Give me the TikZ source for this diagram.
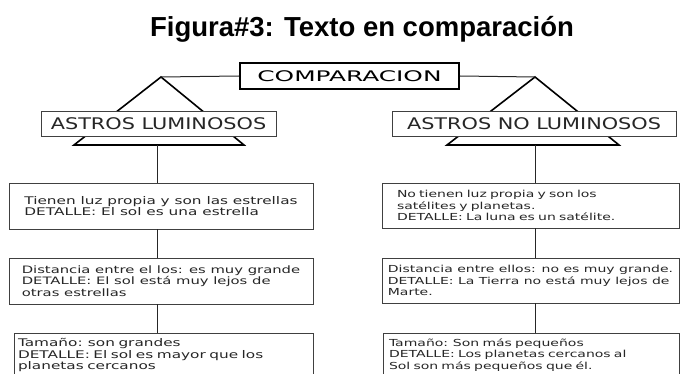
\documentclass[tikz,border=0pt]{standalone}
\usepackage{fontspec}
\usepackage{tikz}
\newfontfamily\fuentefig{Liberation Sans}
\newfontfamily\fuentecomp[FakeStretch=1.7]{DejaVu Sans}
\newfontfamily\fuentecab[FakeStretch=1.3]{DejaVu Sans}
\newfontfamily\fuentecaja[FakeStretch=1.45]{DejaVu Sans}

\tikzset{
	cabecera/.style={draw=black!75, line width=0.9pt, fill=white, inner sep=0pt, minimum height=25pt, text=black!85, font=\fuentecab\fontsize{16}{18}\selectfont},
	caja/.style={draw=black!75, line width=0.9pt, fill=white, align=left, inner ysep=0pt, text=black!85},
	cajaizq/.style={caja, font=\fuentecaja\fontsize{10.55}{11.8}\selectfont},
	cajader/.style={caja, font=\fuentecaja\fontsize{9.65}{11.2}\selectfont},
	linea/.style={line width=1pt, black!85},
	triangulo/.style={line width=1.6pt, black}
}

\begin{document}
\begin{tikzpicture}[x=1pt, y=-1pt]
	\useasboundingbox (0,0) rectangle (680,374);

	\node[font=\fuentefig\bfseries\fontsize{27.5}{30}\selectfont] (titulo) at (362,29.5) {Figura\#3: Texto en comparación};

	\node[draw, line width=1.8pt, inner sep=0pt, minimum width=219pt, minimum height=26pt, font=\fuentecomp\fontsize{14.6}{16}\selectfont] (comp) at (349.5,76) {COMPARACION};

	% triangulos bajo cada cabecera
	\coordinate (picoL) at (161,77);
	\coordinate (picoR) at (535,77);
	\coordinate (baseL) at (157,145);
	\coordinate (baseR) at (535,145);
	\draw[triangulo] (74,145) -- (picoL) -- (244,145) -- cycle;
	\draw[triangulo] (447,145) -- (picoR) -- (619,145) -- cycle;
	\draw[linea] (comp.west) -- (picoL);
	\draw[linea] (comp.east) -- (picoR);

	\node[cabecera, minimum width=235pt] (lum) at (158.5,123.5) {ASTROS LUMINOSOS};
	\node[cabecera, minimum width=284pt] (nolum) at (534,124) {ASTROS NO LUMINOSOS};

	% columna izquierda
	\node[cajaizq, minimum width=304pt, minimum height=46pt] (l1) at (161,206) {Tienen luz propia y son las estrellas\\DETALLE: El sol es una estrella};
	\node[cajaizq, font=\fuentecaja\fontsize{10.2}{11.8}\selectfont, minimum width=304pt, minimum height=46pt] (l2) at (161,281) {Distancia entre el los: es muy grande\\DETALLE: El sol está muy lejos de\\otras estrellas};
	\node[cajaizq, text width=291pt, inner xsep=4pt, minimum height=44pt] (l3) at (163.5,355) {Tamaño: son grandes\\DETALLE: El sol es mayor que los\\planetas cercanos};

	% columna derecha
	\node[cajader, text width=267pt, inner xsep=15pt, minimum height=45pt] (r1) at (530.5,205.5) {No tienen luz propia y son los\\satélites y planetas.\\DETALLE: La luna es un satélite.};
	\node[cajader, minimum width=297pt, minimum height=45pt] (r2) at (530.5,280.5) {Distancia entre ellos: no es muy grande.\\DETALLE: La Tierra no está muy lejos de\\Marte.};
	\node[cajader, text width=284pt, inner xsep=6pt, minimum height=44pt] (r3) at (531,355) {Tamaño: Son más pequeños\\DETALLE: Los planetas cercanos al\\Sol son más pequeños que él.};

	\draw[linea] (baseL) -- (baseL |- l1.north);
	\draw[linea] (l1.south -| baseL) -- (l2.north -| baseL);
	\draw[linea] (l2.south -| baseL) -- (l3.north -| baseL);
	\draw[linea] (baseR) -- (baseR |- r1.north);
	\draw[linea] (r1.south -| baseR) -- (r2.north -| baseR);
	\draw[linea] (r2.south -| baseR) -- (r3.north -| baseR);
\end{tikzpicture}
\end{document}
